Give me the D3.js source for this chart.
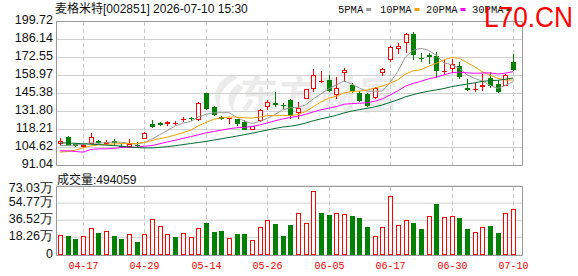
<!DOCTYPE html>
<html><head><meta charset="utf-8">
<script src="https://cdn.jsdelivr.net/npm/d3@7"></script>
<style>body{margin:0;background:#fff;} svg{display:block}</style>
</head><body><svg id="c" width="578" height="276"></svg>
<script>
const dates = ["04-14","04-15","04-16","04-17","04-20","04-21","04-22","04-23","04-24","04-27","04-28","04-29","04-30","05-06","05-07","05-08","05-11","05-12","05-13","05-14","05-15","05-18","05-19","05-20","05-21","05-22","05-25","05-26","05-27","05-28","05-29","06-01","06-02","06-03","06-04","06-05","06-08","06-09","06-10","06-11","06-12","06-15","06-16","06-17","06-18","06-22","06-23","06-24","06-25","06-26","06-29","06-30","07-01","07-02","07-03","07-06","07-07","07-08","07-09","07-10"];
const opens  = [107.6,112.2,107.0,105.0,107.6,109.2,107.4,109.5,106.0,105.0,106.5,111.2,122.2,122.8,122.6,122.3,125.3,127.2,125.7,145.4,135.3,127.5,126.3,125.8,124.2,118.2,124.8,135.3,138.4,136.8,140.8,130.8,141.4,148.4,154.5,155.9,143.9,160.5,151.9,145.9,144.9,141.8,160.5,171.0,178.6,183.6,190.1,172.0,174.6,173.5,161.8,163.5,166.0,149.9,148.0,150.0,157.0,152.4,151.2,169.0];
const closes = [109.4,106.1,105.8,106.6,112.7,107.8,109.0,108.0,105.5,107.6,106.0,115.7,120.3,121.8,123.5,123.2,126.2,126.5,138.4,133.8,129.3,126.5,126.6,122.0,118.2,120.7,133.3,138.8,136.6,136.2,128.2,134.8,148.4,159.0,155.0,147.4,149.9,163.0,146.9,140.0,135.8,149.4,164.0,180.1,181.1,190.1,174.6,171.3,172.8,162.0,162.2,167.5,158.0,148.0,148.6,151.9,151.2,146.5,159.0,163.2];
const highs  = [111.6,113.2,108.0,107.5,115.2,110.0,110.4,110.8,107.0,110.8,108.5,116.2,125.2,124.0,124.8,124.8,127.3,127.5,138.8,145.8,136.3,128.5,126.7,126.0,125.5,121.0,134.0,140.8,146.4,138.4,141.5,139.3,149.0,163.5,162.0,159.5,158.0,164.5,153.0,147.0,145.5,150.0,164.5,181.1,183.6,190.8,191.6,176.1,176.1,176.6,170.5,171.6,169.0,156.5,153.5,160.0,161.5,155.9,160.0,175.0];
const lows   = [105.6,105.6,105.3,104.0,107.1,107.0,106.5,105.8,104.6,104.1,104.5,110.8,119.2,120.5,120.8,121.5,123.8,124.5,125.0,133.0,128.5,125.5,122.2,120.5,117.5,117.8,124.0,132.8,135.3,134.0,126.0,126.3,141.0,146.4,153.0,146.4,141.4,153.9,146.0,139.0,135.2,141.3,158.5,169.5,175.0,175.6,171.0,169.0,167.5,157.0,159.0,161.0,156.5,147.4,146.4,147.4,149.9,145.4,151.0,162.0];
const volumes = [21.3,20.3,17.1,20.3,28.8,23.5,25.6,20.3,17.1,22.0,13.9,22.0,38.4,30.9,22.4,19.5,23.1,19.2,29.1,34.1,24.5,25.6,18.1,22.4,22.4,16.0,29.9,37.3,33.0,20.3,32.0,44.4,33.8,68.2,44.8,42.6,44.8,43.7,41.6,39.8,29.9,20.3,29.9,62.9,32.0,37.3,34.1,27.7,41.6,54.4,40.5,41.6,39.4,27.7,24.5,29.9,30.9,23.5,44.4,49.4059];
const prevClose = 108.0;
const ma5Early  = [106.0,106.2,106.5,107.0];
const ma10Early = [101.1,101.6,102.6,104.4,105.8,106.6,107.0,107.3,107.6];
const ma20Early = [102.1,102.1,101.6,101.1,103.1,103.6,103.6,103.9,104.6,104.6,104.9,105.6,106.1,107.5,108.8,110.1,111.5,112.8,114.2];
const ma30Early = [108.1,108.0,107.8,107.4,107.1,106.8,106.4,106.1,105.6,105.0,104.6,104.3,104.3,104.8,105.3,106.0,106.8,107.6,108.4,109.2,110.2,111.2,112.2,113.2,114.3,115.4,116.6,117.8,119.0];
const priceTicks = [91.04,104.62,118.21,131.80,145.38,158.97,172.55,186.14,199.72];
const volTicks = [0,18.26,36.52,54.77,73.03];
const xTickLabels = ["04-17","04-29","05-14","05-26","06-05","06-17","06-30","07-10"];
const maNames = ["5PMA","10PMA","20PMA","30PMA"];
const maColors = ["#999999","#f5a000","#ff00ff","#006b2d"];
const title = "麦格米特[002851] 2026-07-10  15:30";
const volTitle = "成交量:494059";

const RED = "#ff0000", GREEN = "#008000";
const svg = d3.select("#c");
const L = 56.5, R = 522.5;
const x = d3.scalePoint().domain(dates).range([60, 513]);
const y = d3.scaleLinear().domain([91.04, 199.72]).range([165.5, 21.5]);
const yv = d3.scaleLinear().domain([0, 73.03]).range([255, 186.5]);
const cx = d => Math.round(x(d));

// watermark
const wm = svg.append("g").attr("fill", "#ebebeb");
wm.append("path").attr("d", "M232,74 C214,82 210,100 222,112 C216,98 222,86 238,78 Z M238,84 C226,92 226,104 234,112 C232,102 236,94 244,88 Z");
wm.append("text").attr("x", 240).attr("y", 108).attr("font-family", "Noto Sans CJK SC").attr("font-weight", "bold").attr("font-size", 38).attr("letter-spacing", 2).text("东方财富");

// grids
const gp = svg.append("g");
gp.selectAll("line.h").data(priceTicks).join("line")
  .attr("x1", L).attr("x2", R).attr("y1", d => y(d)).attr("y2", d => y(d))
  .attr("stroke", "#d0d0d0");
gp.selectAll("line.hv").data(volTicks).join("line")
  .attr("x1", L).attr("x2", R).attr("y1", d => yv(d) - 0.5 + (yv(d) % 1 === 0 ? 0.5 : 0)).attr("y2", d => yv(d) - 0.5 + (yv(d) % 1 === 0 ? 0.5 : 0))
  .attr("stroke", "#d0d0d0");
xTickLabels.forEach(t => {
  const xx = cx(t) + 0.5;
  gp.append("line").attr("x1", xx).attr("x2", xx).attr("y1", 22).attr("y2", 165).attr("stroke", "#c8c8c8").attr("stroke-dasharray", "4,3");
  gp.append("line").attr("x1", xx).attr("x2", xx).attr("y1", 187).attr("y2", 254).attr("stroke", "#c8c8c8").attr("stroke-dasharray", "4,3");
});

// borders
const bd = svg.append("g").attr("stroke", "#999").attr("fill", "none");
bd.append("path").attr("d", `M${L},21.5H${R}V165.5H${L}Z`);
bd.append("path").attr("d", `M${L},186.5H${R}V255.5H${L}Z`);

// MA lines
function ma(n, early) {
  return closes.map((c, i) => i < n - 1 ? early[i] : d3.mean(closes.slice(i - n + 1, i + 1)));
}
const mas = [ma(5, ma5Early), ma(10, ma10Early), ma(20, ma20Early), ma(30, ma30Early)];
const line = d3.line().x((d, i) => x(dates[i])).y(d => y(d));

// candles
const cg = svg.append("g");
dates.forEach((d, i) => {
  const o = opens[i], c = closes[i];
  const up = c >= o;
  const col = up ? RED : GREEN;
  const xc = cx(d);
  const top = Math.round(y(Math.max(o, c))), bot = Math.round(y(Math.min(o, c)));
  const hi = Math.round(y(highs[i])), lo = Math.round(y(lows[i]));
  if (up) {
    cg.append("line").attr("x1", xc + 0.5).attr("x2", xc + 0.5).attr("y1", hi).attr("y2", top).attr("stroke", col);
    cg.append("line").attr("x1", xc + 0.5).attr("x2", xc + 0.5).attr("y1", bot).attr("y2", lo).attr("stroke", col);
    if (bot - top <= 1) {
      cg.append("rect").attr("x", xc - 2).attr("y", top).attr("width", 5).attr("height", 1).attr("fill", col);
    } else {
      cg.append("rect").attr("x", xc - 1.5).attr("y", top + 0.5).attr("width", 4).attr("height", bot - top - 1).attr("fill", "#fff").attr("stroke", col);
    }
  } else {
    cg.append("line").attr("x1", xc + 0.5).attr("x2", xc + 0.5).attr("y1", hi).attr("y2", lo).attr("stroke", col);
    cg.append("rect").attr("x", xc - 2).attr("y", top).attr("width", 5).attr("height", Math.max(1, bot - top)).attr("fill", col);
  }
});

const mg = svg.append("g");
mas.forEach((m, k) => {
  mg.append("path").attr("d", line(m)).attr("fill", "none").attr("stroke", maColors[k]).attr("stroke-width", 1);
});

// volume bars
const vg = svg.append("g");
dates.forEach((d, i) => {
  const pc = i === 0 ? prevClose : closes[i - 1];
  const up = closes[i] >= pc;
  const xc = cx(d);
  const top = Math.round(yv(volumes[i]));
  if (up) {
    vg.append("rect").attr("x", xc - 1.5).attr("y", top + 0.5).attr("width", 4).attr("height", 255 - top - 1).attr("fill", "#fff").attr("stroke", RED);
  } else {
    vg.append("rect").attr("x", xc - 2).attr("y", top).attr("width", 5).attr("height", 255 - top).attr("fill", GREEN);
  }
});

// axes labels
const ax = svg.append("g").attr("font-family", "Liberation Sans, Arial").attr("font-size", 12.5).attr("fill", "#111").attr("text-anchor", "end");
priceTicks.forEach(t => {
  ax.append("text").attr("x", 53).attr("y", y(t) + 2.5).text(t.toFixed(2));
});
volTicks.forEach((t, i) => {
  const yy = i === volTicks.length - 1 ? 192 : yv(t) + 2.5;
  ax.append("text").attr("x", 53).attr("y", yy).text(t === 0 ? "0" : t.toFixed(2) + "万");
});
const xl = svg.append("g").attr("font-family", "Liberation Mono, monospace").attr("font-size", 10).attr("fill", RED).attr("text-anchor", "middle");
xTickLabels.forEach(t => xl.append("text").attr("x", cx(t) + 0.5).attr("y", 269).text(t));

// titles
svg.append("text").attr("x", 55).attr("y", 13).attr("font-family", "Liberation Sans, Noto Sans CJK SC").attr("font-size", 12).attr("fill", "#111").text(title);
svg.append("text").attr("x", 57).attr("y", 184).attr("font-family", "Liberation Sans, Noto Sans CJK SC").attr("font-size", 12).attr("fill", "#111").text(volTitle);

// legend
const lgX = [338, 380, 426, 472];
const lg = svg.append("g").attr("font-family", "Liberation Mono, monospace").attr("font-size", 10.5).attr("fill", "#111");
maNames.forEach((n, k) => {
  lg.append("text").attr("x", lgX[k]).attr("y", 12.5).text(n);
  const w = n.length * 6.3;
  lg.append("rect").attr("x", lgX[k] + w + 3).attr("y", 8).attr("width", 5).attr("height", 3).attr("fill", maColors[k]);
});

// site mark
svg.append("text").attr("x", 484).attr("y", 27).attr("font-family", "Liberation Sans, Arial").attr("font-size", 29)
  .attr("textLength", 89).attr("lengthAdjust", "spacingAndGlyphs").attr("fill", "#ff0000").text("L70.CN");
</script></body></html>
